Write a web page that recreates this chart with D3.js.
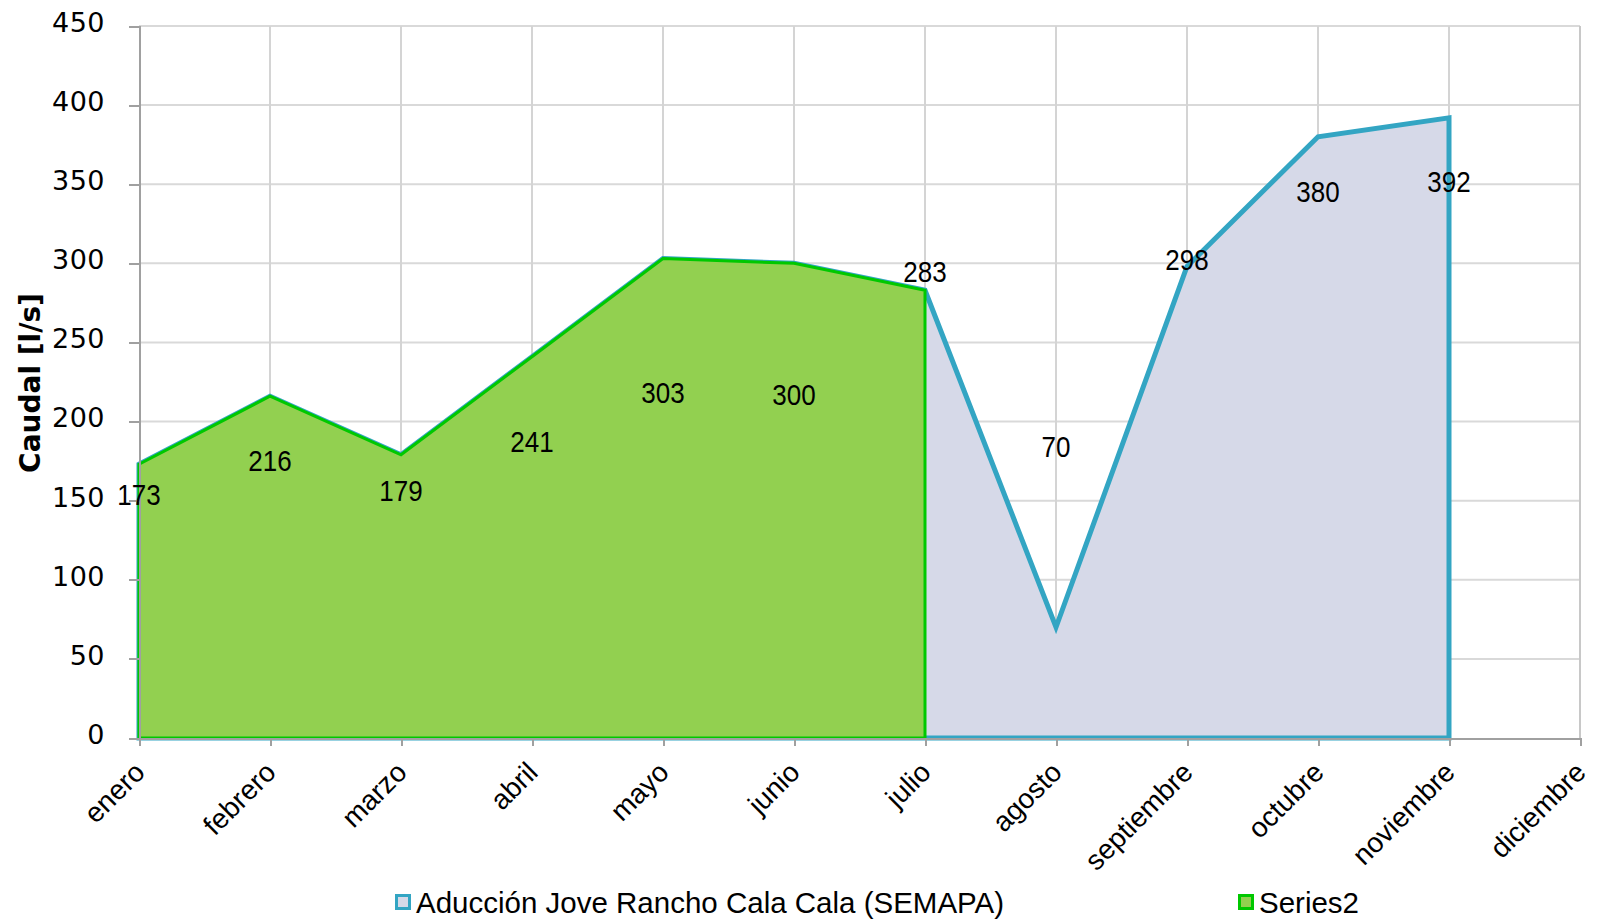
<!DOCTYPE html>
<html>
<head>
<meta charset="utf-8">
<script src="https://cdn.jsdelivr.net/npm/d3@7"></script>
<style>
  body { margin: 0; background: #fff; }
  svg { display: block; }
</style>
</head>
<body>
<svg></svg>
<script>
var months = ["enero", "febrero", "marzo", "abril", "mayo", "junio", "julio",
              "agosto", "septiembre", "octubre", "noviembre", "diciembre"];

// Aducción Jove Rancho Cala Cala (SEMAPA) - enero..noviembre
var semapa = [173, 216, 179, 241, 303, 300, 283, 70, 298, 380, 392];
// Series2 - enero..julio
var series2 = [173, 216, 179, 241, 303, 300, 283];

var yTicks = [0, 50, 100, 150, 200, 250, 300, 350, 400, 450];
var legendNames = ["Aducción Jove Rancho Cala Cala (SEMAPA)", "Series2"];

var svg = d3.select("svg"),
    width = 1600,
    height = 919;

svg.attr("width", width).attr("height", height);

var x = d3.scalePoint().domain(months).range([139, 1580]);
var y = d3.scaleLinear().domain([0, 450]).range([738, 26]);

// grid
var grid = svg.append("g").attr("class", "grid");
grid.selectAll("line.h")
  .data(yTicks.filter(function(d) { return d > 0; }))
  .enter().append("line")
    .attr("x1", x.range()[0]).attr("x2", x.range()[1])
    .attr("y1", function(d) { return y(d); })
    .attr("y2", function(d) { return y(d); })
    .style("stroke", "#d9d9d9").style("stroke-width", 2);

grid.selectAll("line.v")
  .data(months.slice(1))
  .enter().append("line")
    .attr("x1", function(d) { return x(d); })
    .attr("x2", function(d) { return x(d); })
    .attr("y1", y(450)).attr("y2", y(0))
    .style("stroke", function(d) { return d === "diciembre" ? "#c8c8c8" : "#d4d4d4"; })
    .style("stroke-width", 2);

// areas: closed polygons down to zero
function areaPoints(vals) {
  var pts = vals.map(function(v, i) { return [x(months[i]), y(v)]; });
  pts.push([x(months[vals.length - 1]), y(0)]);
  pts.push([x(months[0]), y(0)]);
  return pts;
}

var poly = d3.line().curve(d3.curveLinearClosed);

svg.append("path")
  .attr("d", poly(areaPoints(semapa)))
  .style("fill", "#d6d9e8")
  .style("stroke", "#33a5c3")
  .style("stroke-width", 5)
  .style("stroke-linejoin", "miter");

svg.append("path")
  .attr("d", poly(areaPoints(series2)))
  .style("fill", "#92d050")
  .style("stroke", "#00c800")
  .style("stroke-width", 3)
  .style("stroke-linejoin", "miter");

// axes
var yAxis = svg.append("g")
  .attr("transform", "translate(" + x.range()[0] + ",0)")
  .call(d3.axisLeft(y).tickValues(yTicks).tickSize(10).tickPadding(24));

yAxis.select(".domain").style("stroke", "#a0a0a0").style("stroke-width", 2);
yAxis.selectAll(".tick line").style("stroke", "#a0a0a0").style("stroke-width", 2);
yAxis.selectAll(".tick text")
  .style("font-family", "DejaVu Sans")
  .style("font-size", "27px")
  .style("letter-spacing", "0.5px")
  .style("fill", "#000")
  .attr("dy", "0.2em");

var xAxis = svg.append("g")
  .attr("transform", "translate(0," + y(0) + ")")
  .call(d3.axisBottom(x).tickSize(8).tickSizeOuter(0));

xAxis.select(".domain").style("stroke", "#a0a0a0").style("stroke-width", 2);
xAxis.selectAll(".tick line").style("stroke", "#a0a0a0").style("stroke-width", 2);
xAxis.selectAll(".tick text")
  .style("font-family", "Liberation Sans, Arial")
  .style("font-size", "28px")
  .style("fill", "#000")
  .attr("text-anchor", "end")
  .attr("x", 0).attr("y", 0).attr("dy", 0)
  .attr("transform", "translate(7,36) rotate(-45)");

svg.selectAll(".domain, .tick line").attr("shape-rendering", "crispEdges");

// axis title
svg.append("text")
  .attr("transform", "translate(40,383) rotate(-90)")
  .attr("text-anchor", "middle")
  .style("font-family", "DejaVu Sans")
  .style("font-weight", "bold")
  .style("font-size", "28px")
  .text("Caudal [l/s]");

// data labels
var labels = [];
series2.slice(0, 6).forEach(function(v, i) {
  labels.push({ m: months[i], v: v, pos: v / 2 + 67 });
});
semapa.slice(6).forEach(function(v, i) {
  labels.push({ m: months[i + 6], v: v, pos: v * 0.52 + 147.6 });
});

svg.append("g").selectAll("text")
  .data(labels)
  .enter().append("text")
    .attr("transform", function(d) {
      return "translate(" + x(d.m) + "," + y(d.pos) + ") scale(1,1.1)";
    })
    .attr("text-anchor", "middle")
    .attr("dy", "0.36em")
    .style("font-family", "Liberation Sans, Arial")
    .style("font-size", "26px")
    .text(function(d) { return d.v; });

// legend
var legendX = [395, 1238];
var legend = svg.append("g").selectAll("g")
  .data(legendNames)
  .enter().append("g")
    .attr("transform", function(d, i) { return "translate(" + legendX[i] + ",902)"; });

legend.append("rect")
  .attr("x", 1.5).attr("y", -6.5)
  .attr("width", 13).attr("height", 13)
  .style("fill", function(d, i) { return i === 0 ? "#d6d9e8" : "#92d050"; })
  .style("stroke", function(d, i) { return i === 0 ? "#33a5c3" : "#00c800"; })
  .style("stroke-width", 3);

legend.append("text")
  .attr("x", 21)
  .attr("dy", "0.36em")
  .style("font-family", "Liberation Sans, Arial")
  .style("font-size", "29.5px")
  .text(function(d) { return d; });
</script>
</body>
</html>
